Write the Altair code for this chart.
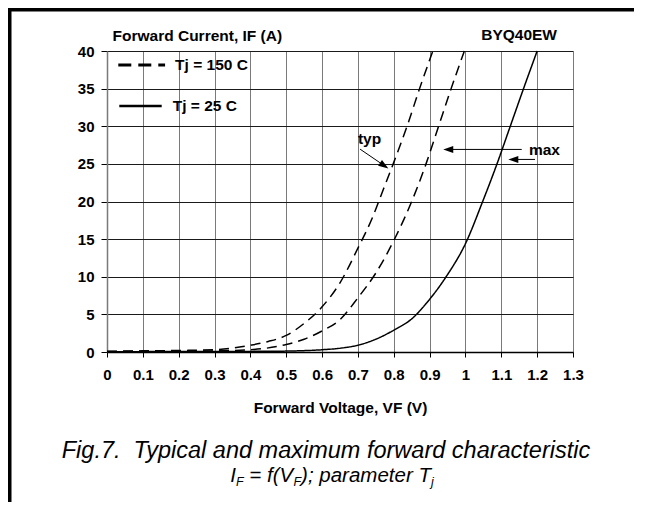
import altair as alt
import pandas as pd

# ---- data ----
VF_TYP150 = [0.0, 0.1, 0.2, 0.3, 0.4, 0.45, 0.5, 0.55, 0.6, 0.65, 0.7, 0.74, 0.77, 0.8, 0.837, 0.872, 0.909]
IF_TYP150 = [0.1, 0.15, 0.2, 0.3, 0.9, 1.4, 2.2, 3.8, 6.0, 9.2, 13.8, 17.8, 21.5, 25.2, 30.0, 35.0, 40.0]

VF_MAX150 = [0.0, 0.1, 0.2, 0.3, 0.4, 0.5, 0.55, 0.6, 0.65, 0.7, 0.75, 0.8, 0.85, 0.89, 0.925, 0.96, 0.997]
IF_MAX150 = [0.05, 0.1, 0.12, 0.15, 0.3, 1.0, 1.7, 2.8, 4.3, 7.2, 10.5, 14.8, 20.0, 25.0, 30.0, 35.0, 40.0]

VF_25 = [0.0, 0.1, 0.2, 0.3, 0.4, 0.5, 0.6, 0.65, 0.7, 0.75, 0.8, 0.85, 0.9, 0.946, 1.0, 1.048, 1.088, 1.125, 1.162, 1.2]
IF_25 = [0.0, 0.05, 0.05, 0.05, 0.08, 0.12, 0.3, 0.5, 0.9, 1.7, 2.9, 4.4, 7.0, 10.0, 14.4, 20.0, 25.0, 30.0, 35.0, 40.0]

X_TICKS = [0, 0.1, 0.2, 0.3, 0.4, 0.5, 0.6, 0.7, 0.8, 0.9, 1.0, 1.1, 1.2, 1.3]
Y_TICKS = [0, 5, 10, 15, 20, 25, 30, 35, 40]

SERIES = ["typ 150 C", "max 150 C", "25 C"]
LEGEND_LABELS = ["Tj = 150 C", "Tj = 25 C"]

FONT = "Liberation Sans"

rows = []
for name, vs, cs in [(SERIES[0], VF_TYP150, IF_TYP150),
                     (SERIES[1], VF_MAX150, IF_MAX150),
                     (SERIES[2], VF_25, IF_25)]:
    for v, c in zip(vs, cs):
        rows.append({"series": name, "V": v, "I": c})
df = pd.DataFrame(rows)

xs = alt.Scale(domain=[0, 1.3], nice=False, zero=False)
ys = alt.Scale(domain=[0, 40], nice=False)

AX = alt.Axis(
    values=X_TICKS, format=".1~f", title="Forward Voltage, VF (V)",
    grid=True, gridColor="#7a7a7a", gridWidth=1,
    domainColor="black", domainWidth=1.5,
    tickColor="black", tickSize=5, tickWidth=1,
    labelFont=FONT, labelFontSize=15, labelFontWeight="bold", labelColor="black",
    labelPadding=10, labelFlush=False, labelOverlap=False,
    titleFont=FONT, titleFontSize=15.5, titleFontWeight="bold", titleColor="black",
    titleY=60, titleBaseline="alphabetic")
AY = alt.Axis(
    values=Y_TICKS, title="Forward Current, IF (A)",
    grid=True, gridColor="#1a1a1a", gridWidth=1,
    domainColor="#7a7a7a", domainWidth=1.5,
    tickColor="black", tickSize=6, tickWidth=1,
    labelFont=FONT, labelFontSize=15, labelFontWeight="bold", labelColor="black",
    labelPadding=7, labelFlush=False, labelOverlap=False,
    titleFont=FONT, titleFontSize=15.5, titleFontWeight="bold", titleColor="black",
    titleAngle=0, titleX=5, titleY=-11, titleAlign="left", titleBaseline="alphabetic")


def X(f):
    return alt.X(f, scale=xs, axis=AX)


def Y(f):
    return alt.Y(f, scale=ys, axis=AY)


one = pd.DataFrame({"k": [0]})

curves = alt.Chart(df).mark_line(color="black", strokeWidth=1.5, interpolate="monotone").encode(
    x=X("V:Q"), y=Y("I:Q"),
    strokeDash=alt.StrokeDash("series:N", scale=alt.Scale(domain=SERIES, range=[[10, 6], [10, 6], [1, 0]]), legend=None),
)

# legend drawn inside the plot
leg_dash = alt.Chart(pd.DataFrame({"x": [0.0315], "x2": [0.162], "y": [38.14]})).mark_rule(
    color="black", strokeWidth=3, strokeDash=[13, 7]).encode(x=X("x:Q"), x2="x2", y=Y("y:Q"))
leg_solid = alt.Chart(pd.DataFrame({"x": [0.0343], "x2": [0.1526], "y": [32.68]})).mark_rule(
    color="black", strokeWidth=2.5).encode(x=X("x:Q"), x2="x2", y=Y("y:Q"))
leg_text = alt.Chart(pd.DataFrame({"x": [0.19, 0.1833], "y": [38.14, 32.68], "t": LEGEND_LABELS})).mark_text(
    align="left", baseline="middle", font=FONT, fontSize=15.5, fontWeight="bold", color="black").encode(
    x=X("x:Q"), y=Y("y:Q"), text="t:N")

# annotations typ / max with arrows
ann_text = alt.Chart(pd.DataFrame({"x": [0.70, 1.177], "y": [27.7, 26.17], "t": ["typ", "max"]})).mark_text(
    align="left", baseline="alphabetic", font=FONT, fontSize=15.5, fontWeight="bold", color="black").encode(
    x=X("x:Q"), y=Y("y:Q"), text="t:N")
arrow_lines = alt.Chart(pd.DataFrame({
    "x": [0.706, 1.157, 1.194], "x2": [0.7733, 0.952, 1.1335],
    "y": [26.96, 26.92, 25.59], "y2": [24.77, 26.92, 25.59]})).mark_rule(color="black", strokeWidth=1).encode(
    x=X("x:Q"), x2="x2", y=Y("y:Q"), y2="y2")
HEAD = "M -1 0 L 1 -0.7 L 1 0.7 Z"
heads_h = alt.Chart(pd.DataFrame({"x": [0.952, 1.1335], "y": [26.92, 25.59]})).mark_point(
    shape=HEAD, size=100, filled=True, color="black", opacity=1, strokeWidth=0).encode(
    x=X("x:Q"), y=Y("y:Q"))
head_typ = alt.Chart(pd.DataFrame({"x": [0.7733], "y": [24.77]})).mark_point(
    shape=HEAD, size=100, filled=True, color="black", opacity=1, strokeWidth=0, angle=214).encode(
    x=X("x:Q"), y=Y("y:Q"))


def label(txt, x, y, size, align="left", weight="normal", style="normal"):
    return alt.Chart(one).mark_text(text=txt, font=FONT, fontSize=size, align=align, baseline="alphabetic",
                                    fontWeight=weight, fontStyle=style, color="black").encode(
        x=alt.value(x), y=alt.value(y))


part = "BYQ40EW"
device = label(part, 450, -11, 15.5, align="right", weight="bold")

cap1 = label("Fig.7.\u00a0 Typical and maximum forward characteristic", 219, 407, 23.5, align="center", style="italic")
cap2 = [
    label("I", 123.3, 431, 20.5, style="italic"),
    label("F", 128.9, 435, 12.5, style="italic"),
    label("= f(V", 142.3, 431, 20.5, style="italic"),
    label("F", 186.5, 435, 12.5, style="italic"),
    label("); parameter T", 194.1, 431, 20.5, style="italic"),
    label("j", 324.0, 435, 12.5, style="italic"),
]

# outer frame (left and top edges), drawn as thin rects
frame_left = alt.Chart(one).mark_rect(color="black").encode(
    x=alt.value(-99), x2=alt.value(-95.5), y=alt.value(-43), y2=alt.value(451))
frame_top = alt.Chart(one).mark_rect(color="black").encode(
    x=alt.value(-99), x2=alt.value(527), y=alt.value(-43), y2=alt.value(-39.5))

chart = alt.layer(
    curves, leg_dash, leg_solid, leg_text, ann_text, arrow_lines, heads_h, head_typ,
    device, cap1, *cap2, frame_left, frame_top
).properties(
    width=466, height=301,
    padding={"left": 99, "top": 43, "right": 71, "bottom": 150},
    autosize=alt.AutoSizeParams(type="none"),
    background="white",
).configure_view(strokeWidth=0)

chart.save("out.html", embed_options={"renderer": "svg", "actions": False})
